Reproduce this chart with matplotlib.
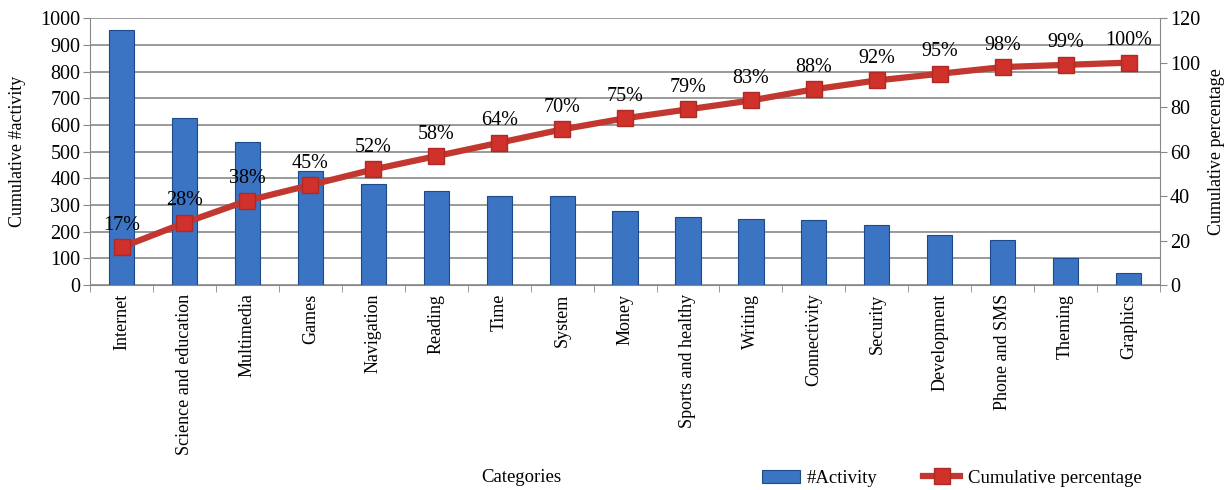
import matplotlib.pyplot as plt
import numpy as np

plt.rcParams['font.family'] = ['Liberation Serif', 'DejaVu Serif']

categories = ["Internet", "Science and education", "Multimedia", "Games", "Navigation",
              "Reading", "Time", "System", "Money", "Sports and healthy", "Writing",
              "Connectivity", "Security", "Development", "Phone and SMS", "Theming", "Graphics"]
activity = [955, 625, 535, 427, 378, 352, 333, 333, 277, 255, 247, 243, 225, 187, 169, 101, 45]
cum_pct = [17, 28, 38, 45, 52, 58, 64, 70, 75, 79, 83, 88, 92, 95, 98, 99, 100]

fs = 14.5      # horizontal text
fs_rot = 13    # rotated text

fig = plt.figure(figsize=(12.25, 4.9), dpi=100)
ax = fig.add_axes([0.0735, 0.418, 0.8735, 0.545])
x = np.arange(len(categories))

ax.set_axisbelow(True)
ax.yaxis.grid(True, color='#9a9a9a', linewidth=1.4)
bars = ax.bar(x, activity, width=0.4, color='#3b74c2', edgecolor='#1d4b8a', linewidth=0.8,
              label='#Activity')
ax.set_xlim(-0.5, len(categories) - 0.5)
ax.set_ylim(0, 1000)
ax.set_yticks(range(0, 1001, 100))
ax.set_xticks(x)
ax.set_xticklabels(categories, rotation=90, fontsize=fs_rot)
ax.tick_params(axis='x', length=0, pad=6)
ax.set_xticks(np.arange(-0.5, len(categories)), minor=True)
ax.tick_params(axis='x', which='minor', length=5, color='#888888')
ax.tick_params(axis='y', labelsize=fs, length=5, color='#888888', pad=2)
ax.set_ylabel('Cumulative #activity', fontsize=fs_rot)
ax.yaxis.set_label_coords(-0.06, 0.5)
ax.set_xlabel('Categories', fontsize=13.5)
ax.xaxis.set_label_coords(0.403, -0.69)
for s in ['top', 'right']:
    ax.spines[s].set_visible(False)
for s in ['left', 'bottom']:
    ax.spines[s].set_color('#888888')

ax2 = ax.twinx()
line, = ax2.plot(x, cum_pct, color='#c2372f', linewidth=4.5, marker='s', markersize=12,
                 markerfacecolor='#d0312a', markeredgecolor='#b02a25',
                 label='Cumulative percentage')
ax2.set_ylim(0, 120)
ax2.set_yticks(range(0, 121, 20))
ax2.tick_params(axis='y', labelsize=fs, length=5, color='#888888', pad=2)
ax2.set_ylabel('Cumulative percentage', fontsize=fs_rot)
ax2.yaxis.set_label_coords(1.045, 0.5)
for s in ['top', 'left', 'bottom']:
    ax2.spines[s].set_visible(False)
ax2.spines['right'].set_color('#888888')

for xi, p in zip(x, cum_pct):
    ax2.annotate(f'{p}%', (xi, p), xytext=(0, 9), textcoords='offset points',
                 ha='center', va='bottom', fontsize=fs)

fig.legend(handles=[bars, line], loc='center', bbox_to_anchor=(0.777, 0.024), ncol=2,
           frameon=False, fontsize=13.5, handlelength=2.0, columnspacing=2.4,
           handletextpad=0.4)

fig.savefig('out.png', dpi=100)
